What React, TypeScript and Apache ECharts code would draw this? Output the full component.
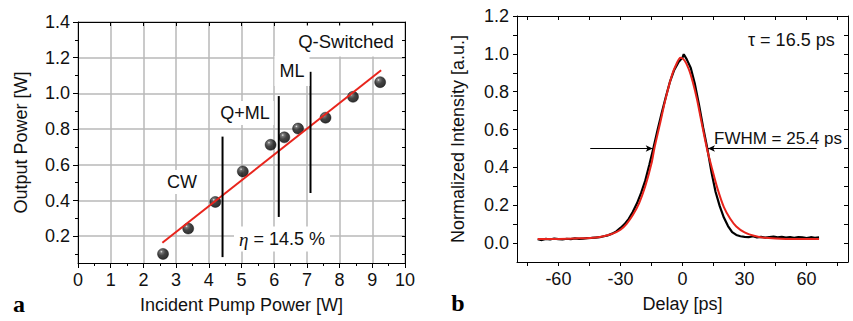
import React, { useEffect, useRef } from "react";
import * as echarts from "echarts";

// ---------- Panel a: output power vs incident pump power ----------
const pumpPower = [2.6, 3.37, 4.2, 5.04, 5.89, 6.31, 6.73, 7.57, 8.41, 9.24];
const outputPower = [0.101, 0.243, 0.392, 0.563, 0.712, 0.754, 0.803, 0.864, 0.981, 1.063];
const fitPump = [2.58, 9.27];
const fitOutput = [0.163, 1.13];
const regimeBoundaryX = [4.42, 6.14, 7.11];
const regimeBoundaryLow = [0.083, 0.308, 0.442];
const regimeBoundaryHigh = [0.758, 0.985, 1.121];
const outputTickLabels = [0.2, 0.4, 0.6, 0.8, 1.0, 1.2, 1.4];
const outputMinorTicks = [0.1, 0.3, 0.5, 0.7, 0.9, 1.1, 1.3];

// ---------- Panel b: autocorrelation trace ----------
const delayMeasured = [
  -70, -68, -66, -64, -62, -60, -58, -56, -54, -52, -50, -48, -46, -44, -42, -40, -38, -36, -34, -32,
  -30, -28, -26, -24, -22, -20, -18, -16, -14, -12, -10, -8, -6, -4, -2, 0, 0.6, 2, 4, 6, 8, 10, 12,
  14, 16, 18, 20, 22, 24, 26, 28, 30, 32, 34, 36, 38, 40, 42, 44, 46, 48, 50, 52, 54, 56, 58, 60, 62,
  64, 66,
];
const intensityMeasured = [
  0.02, 0.016, 0.022, 0.019, 0.024, 0.021, 0.019, 0.023, 0.021, 0.025, 0.022, 0.024, 0.026, 0.027,
  0.029, 0.031, 0.036, 0.041, 0.05, 0.062, 0.08, 0.1, 0.128, 0.165, 0.21, 0.265, 0.33, 0.415, 0.505,
  0.6, 0.69, 0.775, 0.855, 0.915, 0.955, 0.98, 0.998, 0.972, 0.925, 0.84, 0.73, 0.61, 0.5, 0.375,
  0.27, 0.195, 0.135, 0.09, 0.058, 0.043, 0.036, 0.033, 0.031, 0.036, 0.03, 0.033, 0.029, 0.032,
  0.034, 0.03, 0.033, 0.029, 0.031, 0.028, 0.032, 0.03, 0.027, 0.031, 0.028, 0.03,
];
const delayFit = [
  -70, -60, -50, -45, -40, -35, -32, -30, -27, -24, -21, -18, -15, -13.6, -11, -8, -5, -3, -1, 1, 3,
  5, 7, 9, 11.8, 14, 17, 20, 23, 26, 30, 35, 40, 50, 66,
];
const intensityFit = [
  0.021, 0.022, 0.025, 0.027, 0.032, 0.045, 0.058, 0.07, 0.102, 0.148, 0.21, 0.3, 0.42, 0.5, 0.625,
  0.77, 0.89, 0.945, 0.98, 0.965, 0.92, 0.85, 0.76, 0.65, 0.5, 0.405, 0.285, 0.19, 0.13, 0.088, 0.057,
  0.037, 0.028, 0.022, 0.021,
];
const delayRange = [-80, 80];
const intensityRange = [-0.1, 1.2];
const delayTickLabels = [-60, -30, 0, 30, 60];
const delayTicks = [-75, -60, -45, -30, -15, 0, 15, 30, 45, 60, 75];
const intensityTickLabels = [0, 0.2, 0.4, 0.6, 0.8, 1.0, 1.2];
const intensityTicks = [0, 0.1, 0.2, 0.3, 0.4, 0.5, 0.6, 0.7, 0.8, 0.9, 1.0, 1.1, 1.2];
const fwhmLeftArrow = [-44.6, -14.4];
const fwhmRightArrow = [64.8, 12.3];
const fwhmLevel = 0.5;

const FONT = '"Liberation Sans", Arial, sans-serif';
const TXT = "#111";

const mkLine = () => ({ show: true, onZero: false, lineStyle: { color: "#000", width: 1 } });
const mkLabel = (vals: number[], fmt: (v: number) => string) => ({
  show: true,
  customValues: vals,
  formatter: (v: number) => fmt(v),
  color: TXT,
  fontSize: 18,
  fontFamily: FONT,
  margin: 8,
});
const nameStyle = () => ({ color: TXT, fontSize: 18, fontFamily: FONT });

function buildPanelA(): any {
  const allOutputTicks = [...outputMinorTicks, ...outputTickLabels].sort((a, b) => a - b);
  const sphere = new echarts.graphic.RadialGradient(0.35, 0.3, 0.65, [
    { offset: 0, color: "#e6e6e6" },
    { offset: 0.18, color: "#555" },
    { offset: 0.55, color: "#151515" },
    { offset: 1, color: "#000" },
  ]);
  const boundarySeries = regimeBoundaryX.map((x, i) => ({
    type: "line",
    data: [
      [x, regimeBoundaryLow[i]],
      [x, regimeBoundaryHigh[i]],
    ],
    symbol: "none",
    lineStyle: { color: "#000", width: 2 },
    z: 4,
    silent: true,
  }));
  const txt = (text: string, x: number, y: number, pad: number[], size = 18) => ({
    type: "text",
    x,
    y,
    style: { text, font: `${size}px ${FONT}`, fill: TXT, align: "center", verticalAlign: "middle", backgroundColor: "#fff", padding: pad },
    z: 100,
  });
  return {
    animation: false,
    backgroundColor: "#fff",
    grid: { left: 78, top: 22, width: 327, height: 241, outerBoundsMode: "none", containLabel: false },
    xAxis: [
      {
        type: "value",
        min: 0,
        max: 10,
        interval: 1,
        position: "bottom",
        axisLine: mkLine(),
        axisTick: { show: true, length: 5, lineStyle: { color: "#000" } },
        minorTick: { show: true, splitNumber: 2, length: 3, lineStyle: { color: "#000" } },
        axisLabel: { color: TXT, fontSize: 18, fontFamily: FONT, margin: 8 },
        splitLine: { show: true, lineStyle: { color: "#b8b8b8", width: 1.5 } },
        name: "Incident Pump Power [W]",
        nameLocation: "middle",
        nameGap: 33,
        nameTextStyle: nameStyle(),
      },
      {
        type: "value",
        min: 0,
        max: 10,
        interval: 1,
        position: "top",
        axisLine: mkLine(),
        axisTick: { show: true, inside: true, length: 4, lineStyle: { color: "#000" } },
        axisLabel: { show: false },
        splitLine: { show: false },
      },
    ],
    yAxis: [
      {
        type: "value",
        min: 0.05,
        max: 1.4,
        position: "left",
        axisLine: mkLine(),
        axisTick: { show: true, customValues: outputTickLabels, length: 5, lineStyle: { color: "#000" } },
        axisLabel: mkLabel(outputTickLabels, (v) => v.toFixed(1)),
        splitLine: { show: true, lineStyle: { color: "#b8b8b8", width: 1.5 } },
        name: "Output Power [W]",
        nameLocation: "middle",
        nameGap: 48,
        nameTextStyle: nameStyle(),
      },
      {
        type: "value",
        min: 0.05,
        max: 1.4,
        position: "left",
        axisLine: { show: false, onZero: false },
        axisTick: { show: true, customValues: outputMinorTicks, length: 3, lineStyle: { color: "#000" } },
        axisLabel: { show: false },
        splitLine: { show: false },
      },
      {
        type: "value",
        min: 0.05,
        max: 1.4,
        position: "right",
        axisLine: mkLine(),
        axisTick: { show: true, inside: true, customValues: allOutputTicks, length: 3, lineStyle: { color: "#000" } },
        axisLabel: { show: false },
        splitLine: { show: false },
      },
    ],
    series: [
      {
        type: "scatter",
        data: pumpPower.map((x, i) => [x, outputPower[i]]),
        symbol: "circle",
        symbolSize: 11,
        itemStyle: { color: sphere, borderColor: "#000", borderWidth: 0.5 },
        z: 2,
        silent: true,
      },
      {
        type: "line",
        data: fitPump.map((x, i) => [x, fitOutput[i]]),
        symbol: "none",
        lineStyle: { color: "#e8241c", width: 2 },
        z: 3,
        silent: true,
      },
      ...boundarySeries,
    ],
    graphic: [
      txt("CW", 182, 182, [3, 4]),
      txt("Q+ML", 245, 113, [3, 4]),
      txt("ML", 292, 71, [6, 5]),
      txt("Q-Switched", 346, 41, [6, 6], 18.5),
      {
        type: "text",
        x: 282,
        y: 239,
        style: {
          text: "{i|η} = 14.5 %",
          font: `18px ${FONT}`,
          fill: TXT,
          align: "center",
          verticalAlign: "middle",
          backgroundColor: "#fff",
          padding: [3, 5],
          rich: { i: { fontStyle: "italic", fontFamily: '"Liberation Serif", serif', fontSize: 19, fill: TXT } },
        },
        z: 100,
      },
      {
        type: "text",
        x: 19,
        y: 304,
        style: { text: "a", font: `bold 24px "Liberation Serif", serif`, fill: "#000", align: "center", verticalAlign: "middle" },
        z: 100,
      },
    ],
  };
}

// Panel b lives in its own container starting at page x = 440.
function buildPanelB(): any {
  return {
    animation: false,
    backgroundColor: "#fff",
    grid: { left: 77, top: 16, width: 331, height: 246, outerBoundsMode: "none", containLabel: false },
    xAxis: [
      {
        type: "value",
        min: delayRange[0],
        max: delayRange[1],
        position: "bottom",
        axisLine: mkLine(),
        axisTick: { show: true, customValues: delayTicks, length: 4, lineStyle: { color: "#000" } },
        axisLabel: mkLabel(delayTickLabels, (v) => String(v)),
        splitLine: { show: false },
        name: "Delay [ps]",
        nameLocation: "middle",
        nameGap: 33,
        nameTextStyle: nameStyle(),
      },
      {
        type: "value",
        min: delayRange[0],
        max: delayRange[1],
        position: "top",
        axisLine: mkLine(),
        axisTick: { show: true, inside: true, customValues: delayTicks, length: 4, lineStyle: { color: "#000" } },
        axisLabel: { show: false },
        splitLine: { show: false },
      },
    ],
    yAxis: [
      {
        type: "value",
        min: intensityRange[0],
        max: intensityRange[1],
        position: "left",
        axisLine: mkLine(),
        axisTick: { show: true, customValues: intensityTicks, length: 4, lineStyle: { color: "#000" } },
        axisLabel: mkLabel(intensityTickLabels, (v) => v.toFixed(1)),
        splitLine: { show: false },
        name: "Normalized Intensity [a.u.]",
        nameLocation: "middle",
        nameGap: 50,
        nameTextStyle: nameStyle(),
      },
      {
        type: "value",
        min: intensityRange[0],
        max: intensityRange[1],
        position: "right",
        axisLine: mkLine(),
        axisTick: { show: true, inside: true, customValues: intensityTicks, length: 4, lineStyle: { color: "#000" } },
        axisLabel: { show: false },
        splitLine: { show: false },
      },
    ],
    series: [
      {
        type: "line",
        data: delayMeasured.map((x, i) => [x, intensityMeasured[i]]),
        symbol: "none",
        lineStyle: { color: "#000", width: 2.2 },
        z: 2,
        silent: true,
      },
      {
        type: "line",
        data: delayFit.map((x, i) => [x, intensityFit[i]]),
        symbol: "none",
        smooth: 0.3,
        lineStyle: { color: "#e8241c", width: 2 },
        z: 3,
        silent: true,
        markLine: {
          silent: true,
          symbol: ["none", "arrow"],
          symbolSize: [5, 7],
          label: { show: false },
          lineStyle: { color: "#000", width: 1, type: "solid" },
          data: [
            [{ coord: [fwhmLeftArrow[0], fwhmLevel] }, { coord: [fwhmLeftArrow[1], fwhmLevel] }],
            [{ coord: [fwhmRightArrow[0], fwhmLevel] }, { coord: [fwhmRightArrow[1], fwhmLevel] }],
          ],
        },
      },
    ],
    graphic: [
      {
        type: "text",
        x: 308,
        y: 40,
        style: { text: "τ = 16.5 ps", font: `18px ${FONT}`, fill: TXT, align: "left", verticalAlign: "middle" },
        z: 100,
      },
      {
        type: "text",
        x: 274,
        y: 138,
        style: { text: "FWHM = 25.4 ps", font: `17px ${FONT}`, fill: TXT, align: "left", verticalAlign: "middle" },
        z: 100,
      },
      {
        type: "text",
        x: 18,
        y: 303,
        style: { text: "b", font: `bold 24px "Liberation Serif", serif`, fill: "#000", align: "center", verticalAlign: "middle" },
        z: 100,
      },
    ],
  };
}

export default function App() {
  const refA = useRef<HTMLDivElement>(null);
  const refB = useRef<HTMLDivElement>(null);

  useEffect(() => {
    if (!refA.current || !refB.current) return;
    const chartA = echarts.init(refA.current, null, { renderer: "svg" });
    const chartB = echarts.init(refB.current, null, { renderer: "svg" });
    chartA.setOption(buildPanelA());
    chartB.setOption(buildPanelB());
    return () => {
      chartA.dispose();
      chartB.dispose();
    };
  }, []);

  return (
    <div style={{ position: "absolute", left: 0, top: 0, width: 853, height: 321, background: "#fff" }}>
      <div ref={refA} style={{ position: "absolute", left: 0, top: 0, width: 440, height: 321 }} />
      <div ref={refB} style={{ position: "absolute", left: 440, top: 0, width: 413, height: 321 }} />
    </div>
  );
}
